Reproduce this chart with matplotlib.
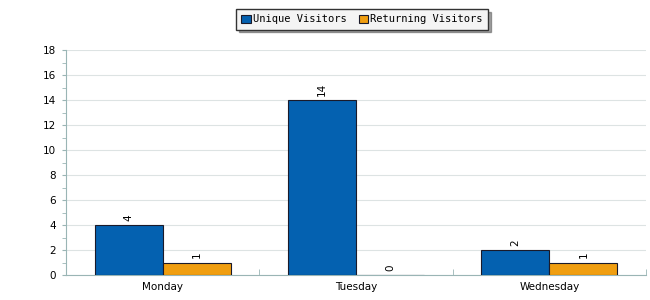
import numpy as np
import matplotlib
matplotlib.use("Agg")
import matplotlib.pyplot as plt

days = ["Monday", "Tuesday", "Wednesday"]
unique_visitors = [4, 14, 2]
returning_visitors = [1, 0, 1]
series_names = ["Unique Visitors", "Returning Visitors"]
colors = ["#0461b0", "#f09e10"]

plt.rcParams["font.family"] = "DejaVu Sans"
plt.rcParams["font.size"] = 7

fig = plt.figure(figsize=(6.5, 3), dpi=100)
ax = fig.add_axes([66 / 650, 25 / 300, 580 / 650, 225 / 300])

x = np.arange(len(days))
w = 0.352
b1 = ax.bar(x - w / 2, unique_visitors, w, color=colors[0], edgecolor="#1a1a2a",
            linewidth=0.8, label=series_names[0], zorder=3)
b2 = ax.bar(x + w / 2, returning_visitors, w, color=colors[1], edgecolor="#1a1a2a",
            linewidth=0.8, label=series_names[1], zorder=3)
for bars in (b1, b2):
    ax.bar_label(bars, padding=3, rotation=90, fontsize=7.5)

ax.set_xlim(-0.5, 2.5)
ax.set_ylim(0, 18)
ax.set_yticks(range(0, 19, 2))
ax.set_yticks(range(0, 19, 1), minor=True)
ax.set_xticks(x)
ax.set_xticklabels(days)
ax.set_xticks([0.5, 1.5, 2.5], minor=True)
ax.grid(axis="y", color="#dde3e3", linewidth=0.8, zorder=0)

axis_col = "#9ab5b5"
for s in ["top", "right"]:
    ax.spines[s].set_visible(False)
ax.spines["left"].set_color(axis_col)
ax.spines["bottom"].set_color(axis_col)
ax.tick_params(axis="y", which="both", direction="out", color=axis_col, length=3, pad=4,
               labelsize=7.5)
ax.tick_params(axis="x", which="major", length=0, pad=5, labelsize=7.5)
ax.tick_params(axis="x", which="minor", direction="in", color=axis_col, length=4)

leg = fig.legend(loc="upper center", bbox_to_anchor=(362 / 650, 1 - 4 / 300), ncol=2,
                 frameon=True, fancybox=False, shadow=True,
                 prop={"family": "DejaVu Sans Mono", "size": 7.5},
                 handlelength=0.9, handleheight=0.9, handletextpad=0.2,
                 columnspacing=1.2, borderpad=0.5)
leg.get_frame().set_edgecolor("#333333")
leg.get_frame().set_facecolor("#f4f4f4")
for h in leg.legend_handles:
    h.set_edgecolor("#1a1a2a")

fig.savefig("out.png", dpi=100)
